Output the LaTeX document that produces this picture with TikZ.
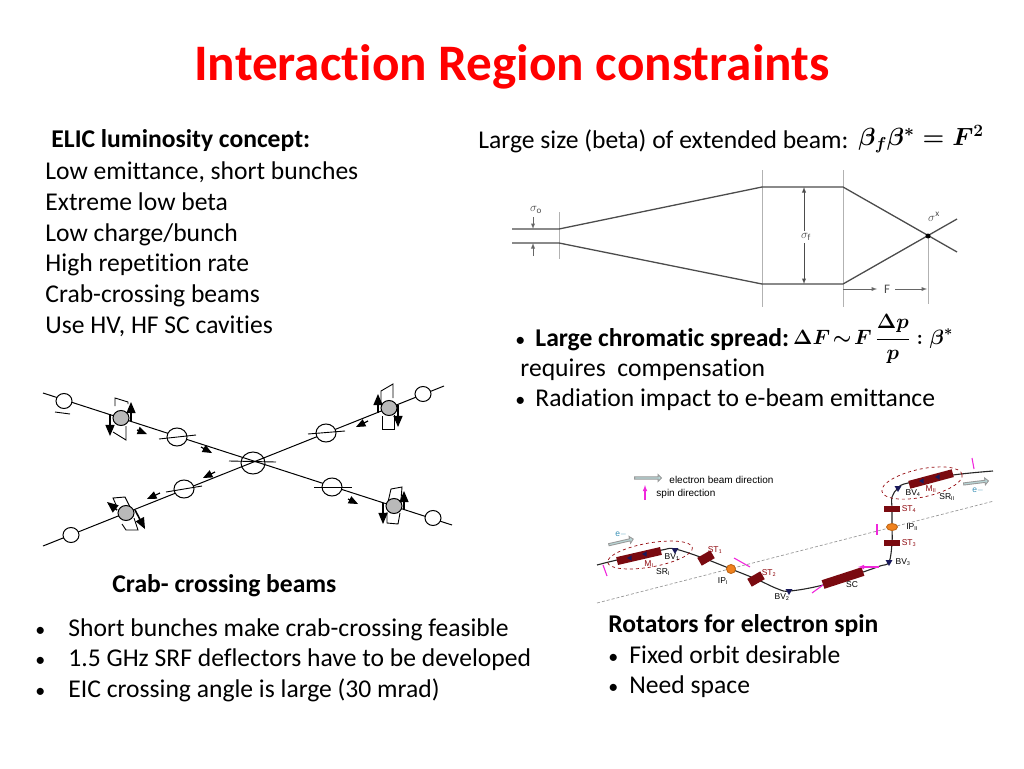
\documentclass[tikz,border=0pt]{standalone}
\usepackage{fontspec}
\setmainfont[Ligatures=NoCommon]{Carlito}
\newfontfamily\labelfont{Liberation Sans}
\usetikzlibrary{arrows,shapes,positioning}
\definecolor{titlered}{RGB}{255,0,0}
\definecolor{magnetred}{RGB}{122,10,16}
\definecolor{spinpink}{RGB}{240,40,220}
\definecolor{beamteal}{RGB}{185,215,215}
\definecolor{iporange}{RGB}{240,130,30}
\definecolor{trinavy}{RGB}{25,25,90}
\newcommand{\bul}{{\fontsize{20}{24}\selectfont\textbullet}}
\newsavebox{\betabox}
\newsavebox{\chrombox}
\tikzset{
txt/.style={anchor=base west,inner sep=0pt,font=\fontsize{25.6}{30}\selectfont},
txtb/.style={txt,font=\fontsize{25.6}{30}\selectfont\bfseries},
opencirc/.style={draw,fill=white,ellipse,inner sep=0pt,line width=1pt},
graycirc/.style={draw,fill=gray!55,ellipse,inner sep=0pt,minimum width=16pt,minimum height=15pt,line width=1pt},
crabarr/.style={-triangle 45,line width=1.6pt},
driftarr/.style={-triangle 45,line width=1.2pt},
magnet/.style={draw=none,fill=magnetred,inner sep=0pt},
tiny/.style={inner sep=0pt,font=\labelfont\fontsize{8.5}{10}\selectfont},
legendtxt/.style={tiny,anchor=west,font=\labelfont\fontsize{10}{12}\selectfont},
tinyred/.style={tiny,text=magnetred!85!red},
spin/.style={spinpink,line width=1.1pt},
hollowarr/.style={draw=gray!80,fill=beamteal,single arrow,single arrow head extend=1pt,inner sep=0pt,minimum height=27pt,minimum width=7pt},
bvtri/.style={fill=trinavy,regular polygon,regular polygon sides=3,inner sep=0pt,minimum size=8pt,shape border rotate=180},
sig/.style={inner sep=0pt,text=black!70,font=\fontsize{13}{15}\selectfont},
envelope/.style={black!70,line width=1.3pt},
guide/.style={gray!60,line width=.9pt}
}
\begin{document}
\sbox{\betabox}{\fontsize{26.8}{30}\selectfont\boldmath$\beta_f\beta^*=F^2$}
\sbox{\chrombox}{\fontsize{20}{24}\selectfont\boldmath$\displaystyle\Delta F\!\sim\! F\,\frac{\Delta p}{p}:\beta^*$}
\begin{tikzpicture}[x=1pt,y=-1pt,line width=.9pt]
\useasboundingbox (0,0) rectangle (1024,768);
%title
\node[anchor=center,inner sep=0pt,text=titlered,font=\fontsize{51.2}{58}\selectfont\bfseries] (title) at (512,67) {Interaction Region constraints};
%left text block
\node[txtb] (concept) at (51,147) {ELIC luminosity concept:};
\node[txt] (l1) at (45,179) {Low emittance, short bunches};
\node[txt] (l2) at (45,210) {Extreme low beta};
\node[txt] (l3) at (45,241) {Low charge/bunch};
\node[txt] (l4) at (45,271) {High repetition rate};
\node[txt] (l5) at (45,302) {Crab-crossing beams};
\node[txt] (l6) at (45,333) {Use HV, HF SC cavities};
%right text block
\node[txt] (large) at (478,148) {Large size (beta) of extended beam:};
\node[inner sep=0pt,text=black!85] (betaf) at (921,139) {\usebox{\betabox}};
\node[txt] (b1) at (515,346) {\bul};
\node[txtb] (chrom) at (535,346) {Large chromatic spread:};
\node[inner sep=0pt,text=black!85] (dF) at (873,339) {\usebox{\chrombox}};
\node[txt] (req) at (520,376) {requires\ \ compensation};
\node[txt] (b2) at (515,406) {\bul};
\node[txt] (rad) at (535,406) {Radiation impact to e-beam emittance};
%bottom left text
\node[txtb] (crabcap) at (112,592) {Crab- crossing beams};
\node[txt] (b3) at (35,636) {\bul}; \node[txt] (s1) at (68,636) {Short bunches make crab-crossing feasible};
\node[txt] (b4) at (35,666) {\bul}; \node[txt] (s2) at (68,666) {1.5 GHz SRF deflectors have to be developed};
\node[txt] (b5) at (35,697) {\bul}; \node[txt] (s3) at (68,697) {EIC crossing angle is large (30 mrad)};
%bottom right text
\node[txtb] (rot) at (608,632) {Rotators for electron spin};
\node[txt] (b6) at (608,663) {\bul}; \node[txt] (r1) at (629,663) {Fixed orbit desirable};
\node[txt] (b7) at (608,693) {\bul}; \node[txt] (r2) at (629,693) {Need space};
%beam envelope
\draw[guide] (559,212)--(559,259); \draw[guide] (762,170)--(762,307); \draw[guide] (843,170)--(843,307); \draw[guide] (928,236)--(928,304);
\draw[envelope] (512,229)--(559,229)--(762,187)--(843,187)--(957,252);
\draw[envelope] (512,243)--(559,243)--(762,284)--(843,284)--(957,219);
\node[sig] (so) at (536,210) {$\sigma_{\rm o}$};
\draw[-latex,black!60] (533,217)--(533,229); \draw[-latex,black!60] (533,256)--(533,243);
\draw[latex-latex,black!70] (804,187)--(804,284); \node[sig,fill=white,inner ysep=2pt] (sf) at (806,237) {$\sigma_{\rm f}$};
\node[sig] (sx) at (934,217) {$\sigma^{\rm x}$};
\node[sig] (F) at (887,289) {F};
\draw[-latex,black!60] (843,289)--(877,289); \draw[-latex,black!60] (895,289)--(927,289);
\node[draw,circle,fill=black,inner sep=0pt,minimum size=4pt] (star) at (928,236) {};
%crab crossing beams
\coordinate (ulend) at (43,393); \coordinate (lrend) at (452,525);
\coordinate (llend) at (43,546); \coordinate (urend) at (444,386);
\draw[line width=1pt] (ulend)--(lrend); \draw[line width=1pt] (llend)--(urend);
\node[opencirc,minimum width=24pt,minimum height=22pt,fill=none] (ip) at (253,463) {};
\draw (229,461)--(276,462);
%upper left
\node[opencirc,minimum width=16pt,minimum height=15pt] (ul1) at (64,401) {}; \draw (55,412)--(70,414);
\node[opencirc,minimum width=20pt,minimum height=18pt] (ul2) at (177,437) {}; \draw (159,439)--(196,435);
\draw (115,406)--(115,398)--(128,402)--(128,404); \draw (113,432)--(126,440)--(126,426);
\node[graycirc] (ulg) at (121,418) {};
\draw[crabarr] (131,421)--(131,402); \draw[crabarr] (110,414)--(110,436);
\draw[driftarr] (137,430)--(147,434); \draw[driftarr] (201,447)--(212,453);
%lower left
\node[opencirc,minimum width=16pt,minimum height=15pt] (ll1) at (71,535) {};
\node[opencirc,minimum width=20pt,minimum height=18pt] (ll2) at (184,489) {}; \draw (166,492)--(202,486);
\draw (117,507)--(113,498)--(125,497)--(130,507); \draw (122,524)--(126,530)--(138,530)--(134,518);
\node[graycirc] (llg) at (126,513) {};
\draw[crabarr] (117,510)--(107,502); \draw[crabarr] (135,510)--(145,529);
\draw[driftarr] (215,472)--(203,478); \draw[driftarr] (160,493)--(147,499);
%upper right
\node[opencirc,minimum width=16pt,minimum height=15pt] (ur1) at (423,394) {};
\node[opencirc,minimum width=20pt,minimum height=18pt] (ur2) at (326,433) {}; \draw (308,434)--(345,431);
\draw (381,403)--(381,391)--(393,384)--(393,398); \draw (382,416)--(382,429)--(394,429)--(394,415);
\node[graycirc] (urg) at (389,408) {};
\draw[crabarr] (378,413)--(378,394); \draw[crabarr] (398,405)--(398,427);
\draw[driftarr] (368,421)--(356,427);
%lower right
\node[opencirc,minimum width=16pt,minimum height=15pt] (lr1) at (433,518) {};
\node[opencirc,minimum width=20pt,minimum height=18pt] (lr2) at (332,487) {}; \draw (314,487)--(352,487);
\draw (388,502)--(391,489)--(402,487)--(401,500); \draw (387,512)--(387,523)--(398,524)--(400,513);
\node[graycirc] (lrg) at (394,506) {};
\draw[crabarr] (404,510)--(404,491); \draw[crabarr] (383,503)--(383,524);
\draw[driftarr] (348,499)--(358,504);
%rotators: legend
\node[hollowarr] (legbeam) at (647.5,478) {};
\node[legendtxt] (legbeamtxt) at (669,479.5) {electron beam direction};
\draw[-latex,spin] (645,500)--(645,485);
\node[legendtxt] (legspintxt) at (656,494) {spin direction};
%midplane and orbit
\draw[densely dashed,gray!80,line width=.7pt] (597,603)--(994,501);
\draw[black!85,line width=1.1pt] plot[smooth,tension=.6] coordinates {(597,565) (617,560) (662,550) (675,549) (703,558) (731,569) (756,579) (778,589) (790,591) (823,585) (863,572) (880,566) (889,562) (892,543) (892,527) (892,509) (892,497) (898,488) (908,483) (953,475) (993,471)};
\draw[dashed,magnetred!80!red,line width=.7pt,rotate around={10:(650,555)}] (650,555) ellipse (43 and 12);
\draw[dashed,magnetred!80!red,line width=.7pt,rotate around={12:(922,483)}] (922,483) ellipse (41 and 14);
%magnets
\node[magnet,minimum width=45pt,minimum height=8pt,rotate=13] (m1) at (639,556) {};
\node[bvtri,minimum size=6pt,rotate=-90] at (630,558) {}; \node[bvtri,minimum size=6pt,rotate=-90] at (645,554) {};
\node[magnet,minimum width=45pt,minimum height=8pt,rotate=15] (m2) at (931,479) {};
\node[bvtri,minimum size=6pt,rotate=-90] at (922,481) {}; \node[bvtri,minimum size=6pt,rotate=-90] at (938,477) {};
\node[magnet,minimum width=42pt,minimum height=9pt,rotate=18] (sc) at (843,578) {};
\node[magnet,minimum width=15pt,minimum height=9pt,rotate=30] (st1) at (706,558) {};
\node[magnet,minimum width=15pt,minimum height=9pt,rotate=30] (st2) at (756,579) {};
\node[magnet,minimum width=16pt,minimum height=6pt] (st3) at (892,543) {};
\node[magnet,minimum width=16pt,minimum height=6pt] (st4) at (892,509) {};
\node[circle,fill=iporange,draw=iporange!80!black,inner sep=0pt,minimum size=9pt] (ip1) at (731,569) {};
\node[ellipse,fill=iporange,draw=iporange!80!black,inner sep=0pt,minimum width=11pt,minimum height=7pt] (ip2) at (892,527) {};
\node[bvtri] (bv1) at (675,550) {}; \node[bvtri] (bv2) at (789,591) {};
\node[bvtri] (bv3) at (889,562) {}; \node[bvtri] (bv4) at (898,488) {};
%spin and beam arrows
\draw[spin] (603,565)--(607,576); \draw[spin] (734,558)--(750,567); \draw[spin] (812,593)--(823,585);
\draw[spin,-latex] (879,567)--(858,567); \draw[spin] (877,524)--(877,535); \draw[spin] (972,458)--(974,469);
\node[hollowarr,rotate=13,minimum height=25pt] (e1arr) at (620.5,542) {};
\node[hollowarr,rotate=7,minimum height=25pt] (e2arr) at (975.5,482.5) {};
%rotator labels
\node[tiny,text=cyan!70!black] (e1) at (621,534) {e$-$}; \node[tiny,text=cyan!70!black] (e2) at (978,490) {e$-$};
\node[tinyred] (m1t) at (649,564) {M$_{\rm I}$}; \node[tiny] (sr1) at (663,572) {SR$_{\rm I}$}; \node[tiny] (bv1t) at (672,557) {BV$_{\rm 1}$};
\node[tinyred] (st1t) at (715,550) {ST$_{\rm 1}$}; \node[tiny] (ip1t) at (723,581) {IP$_{\rm I}$}; \node[tinyred] (st2t) at (769,573) {ST$_{\rm 2}$}; \node[tiny] (bv2t) at (782,597) {BV$_{\rm 2}$};
\node[tiny] (sct) at (852,585) {SC}; \node[tiny] (bv3t) at (903,562) {BV$_{\rm 3}$}; \node[tinyred] (st3t) at (909,543) {ST$_{\rm 3}$};
\node[tiny] (ip2t) at (912,527) {IP$_{\rm II}$}; \node[tinyred] (st4t) at (909,509) {ST$_{\rm 4}$}; \node[tiny] (bv4t) at (913,493) {BV$_{\rm 4}$};
\node[tinyred] (m2t) at (931,489) {M$_{\rm II}$}; \node[tiny] (sr2) at (947,497) {SR$_{\rm II}$};
\end{tikzpicture}
\end{document}
